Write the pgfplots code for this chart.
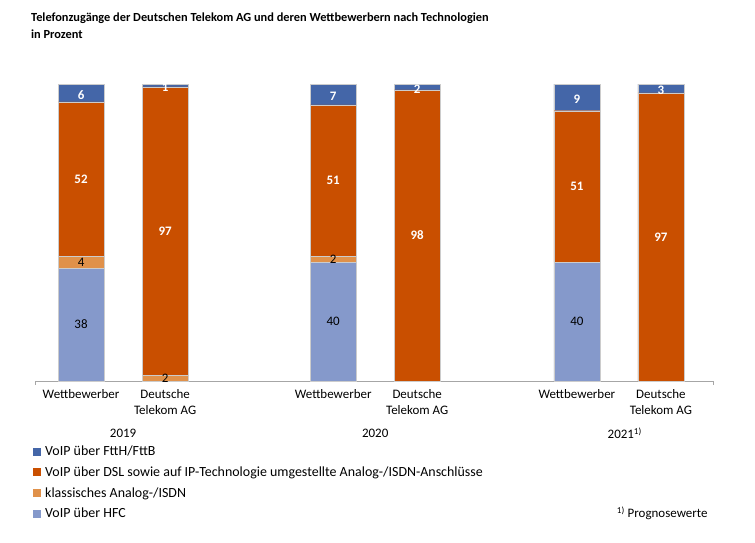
\documentclass[border=0pt]{standalone}
\usepackage{pgfplots}
\pgfplotsset{compat=1.18}
\usepackage{fontspec}
\setmainfont{Carlito}
\definecolor{ftth}{HTML}{4466A8}
\definecolor{dsl}{HTML}{C94F00}
\definecolor{analog}{HTML}{E0914A}
\definecolor{hfc}{HTML}{8599CB}
\begin{document}
\begin{tikzpicture}[x=1bp,y=1bp]
\path[use as bounding box] (0,0) rectangle (755,-543);
\node[anchor=north west,align=left,inner sep=0pt,font=\fontsize{12.4}{17}\selectfont\bfseries] at (31,-13)
  {Telefonzugänge der Deutschen Telekom AG und deren Wettbewerbern nach Technologien\\in Prozent};
\begin{axis}[
    at={(35bp,-381bp)}, anchor=south west,
    width=678bp, height=297bp, scale only axis,
    ybar stacked, bar width=46bp,
    ymin=0, ymax=100,
    xmin=-0.548, xmax=7.52,
    axis y line=none,
    axis x line*=bottom,
    x axis line style={draw=black!35, line width=1pt},
    xtick={0,1,3,4,5.9,6.9},
    xticklabels={Wettbewerber,Deutsche\\Telekom AG,Wettbewerber,Deutsche\\Telekom AG,Wettbewerber,Deutsche\\Telekom AG},
    xticklabel style={align=center, font=\fontsize{13}{16}\selectfont, yshift=-5bp},
    major tick length=0pt,
    clip=false,
    /pgf/number format/assume math mode=true,
    every axis plot/.append style={draw=white!80!black, line width=0.3pt},
    nodes near coords={\pgfmathprintnumber{\pgfplotspointmeta}},
    nodes near coords align={center},
    every node near coord/.append style={font=\fontsize{13}{14}\selectfont},
    legend cell align=left,
    reverse legend,
    legend style={draw=none, at={(-0.003,-0.212)}, anchor=north west,
      font=\fontsize{14}{15}\selectfont, row sep=5.5bp, inner sep=0pt,
      /tikz/every odd column/.append style={column sep=2bp}},
    legend image code/.code={\fill[#1,draw=none] (0bp,-4bp) rectangle (8bp,4bp);},
  ]
\addplot[fill=hfc, nodes near coords style={text=black}]
  coordinates {(0,38) (1,0) (3,40) (4,0) (5.9,40) (6.9,0)};
\addplot[fill=analog, nodes near coords style={text=black},
  point meta=explicit]
  coordinates {(0,4) [4] (1,2) [2] (3,2) [2] (4,0) [] (5.9,0) [] (6.9,0) []};
\addplot[fill=dsl, nodes near coords style={text=white, font=\fontsize{13}{14}\selectfont\bfseries}]
  coordinates {(0,52) (1,97) (3,51) (4,98) (5.9,51) (6.9,97)};
\addplot[fill=ftth, nodes near coords style={text=white, font=\fontsize{13}{14}\selectfont\bfseries, yshift=-2bp}]
  coordinates {(0,6) (1,1) (3,7) (4,2) (5.9,9) (6.9,3)};
\legend{VoIP über HFC, klassisches Analog-/ISDN, VoIP über DSL sowie auf IP-Technologie umgestellte Analog-/ISDN-Anschlüsse, VoIP über FttH/FttB}
\node[font=\fontsize{13}{14}\selectfont] at (axis cs:0.5,0) [yshift=-52bp] {2019};
\node[font=\fontsize{13}{14}\selectfont] at (axis cs:3.5,0) [yshift=-52bp] {2020};
\node[font=\fontsize{13}{14}\selectfont] at (axis cs:6.47,0) [yshift=-52bp] {2021\textsuperscript{1)}};
\end{axis}
\draw[black!35, line width=0.8pt] (35,-381) -- (35,-385) (713,-381) -- (713,-385);
\node[anchor=east,font=\fontsize{13}{14}\selectfont] at (711,-513) {\textsuperscript{1)} Prognosewerte};
\end{tikzpicture}
\end{document}
